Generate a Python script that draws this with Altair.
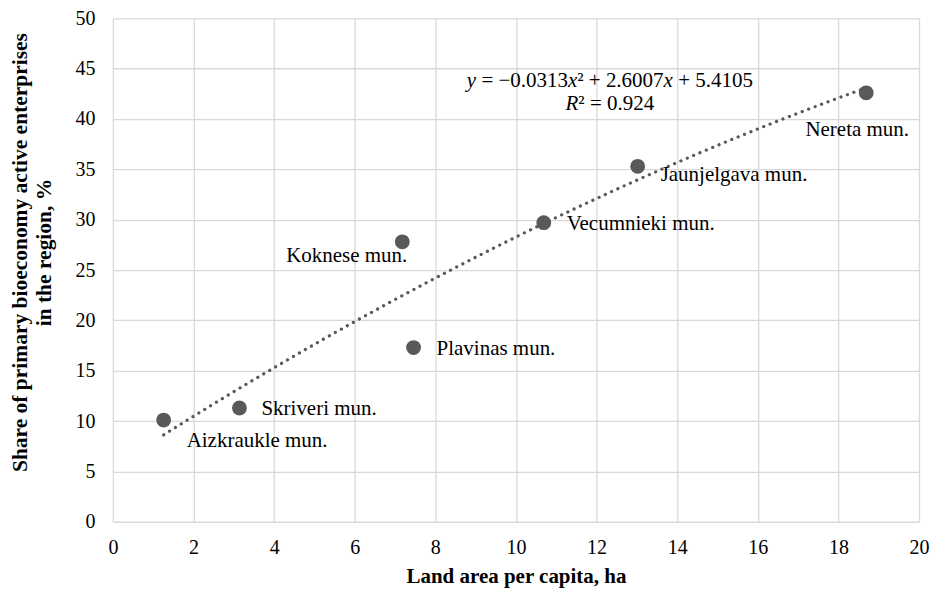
import altair as alt
import pandas as pd

# ---- data ----
names = ["Aizkraukle mun.", "Skriveri mun.", "Plavinas mun.", "Koknese mun.",
         "Vecumnieki mun.", "Jaunjelgava mun.", "Nereta mun."]
land_area = [1.26, 3.14, 7.46, 7.18, 10.69, 13.02, 18.69]
share = [10.1, 11.3, 17.3, 27.8, 29.7, 35.3, 42.6]
x_ticks = list(range(0, 21, 2))
y_ticks = list(range(0, 51, 5))
eq_line1 = [("y", True), (" = \u22120.0313", False), ("x", True), ("\u00b2 + 2.6007", False),
            ("x", True), (" + 5.4105", False)]
eq_line2 = [("R", True), ("\u00b2 = 0.924", False)]

df = pd.DataFrame({"name": names, "x": land_area, "y": share})

FONT = "Liberation Serif"
GREY = "#595959"
W, H = 807, 504

xs = alt.Scale(domain=[0, 20], nice=False, zero=False)
ys = alt.Scale(domain=[0, 50], nice=False, zero=False)

xenc = alt.X("x:Q", scale=xs, axis=alt.Axis(
    values=x_ticks, title="Land area per capita, ha", grid=True, domain=False, ticks=False,
    labelFont=FONT, labelFontSize=20, labelColor="#000000", labelPadding=16,
    titleFont=FONT, titleFontSize=21, titleFontWeight="bold", titleColor="#000000",
    titleY=55, titleBaseline="middle", labelFlush=False))
yenc = alt.Y("y:Q", scale=ys, axis=alt.Axis(
    values=y_ticks, title=["Share of primary bioeconomy active enterprises", "in the region, %"],
    grid=True, domain=False, ticks=False,
    labelFont=FONT, labelFontSize=20, labelColor="#000000", labelPadding=18,
    titleFont=FONT, titleFontSize=21.5, titleFontWeight="bold", titleColor="#000000",
    titleX=-92, titleY=234, titleAngle=-90, titleAlign="center", titleBaseline="middle",
    titleLineHeight=24, labelFlush=False))

base = alt.Chart(df)

trend = base.transform_regression("x", "y", method="poly", order=2).mark_line(
    color=GREY, strokeWidth=3.2, strokeDash=[0.1, 6.8], strokeCap="round").encode(
    x=alt.X("x:Q", scale=xs), y=alt.Y("y:Q", scale=ys))

points = base.mark_circle(size=220, color=GREY, opacity=1).encode(x=xenc, y=yenc)

# label offsets (styling)
label_style = {
    "Aizkraukle mun.": ("left", 23, 21),
    "Skriveri mun.": ("left", 22, 1),
    "Plavinas mun.": ("left", 23, 1),
    "Koknese mun.": ("right", 5, 14),
    "Vecumnieki mun.": ("left", 23, 1),
    "Jaunjelgava mun.": ("left", 23, 9),
    "Nereta mun.": ("center", -9, 37),
}
labels = []
for n in names:
    al, dx, dy = label_style[n]
    labels.append(base.transform_filter(alt.datum.name == n).mark_text(
        font=FONT, fontSize=21, color="#000000", align=al, baseline="middle", dx=dx, dy=dy
    ).encode(x=alt.X("x:Q", scale=xs), y=alt.Y("y:Q", scale=ys), text="name:N"))

# equation annotation (Times metrics, em units)
cw = {" ": 0.25, ".": 0.25, "=": 0.564, "+": 0.564, "\u2212": 0.564, "\u00b2": 0.3,
      "x": 0.444, "y": 0.444, "R": 0.611}
def width(s):
    return sum(cw.get(c, 0.5) for c in s)

EQ_FS = 21
eq_cx = 12.33
eq_layers = []
for line, ydat in ((eq_line1, 43.75), (eq_line2, 41.5)):
    total = sum(width(t) for t, _ in line) * EQ_FS
    off = -total / 2
    for t, it in line:
        lead = len(t) - len(t.lstrip(" "))
        core = t.strip(" ")
        start = off + lead * cw[" "] * EQ_FS
        eq_layers.append(alt.Chart(pd.DataFrame({"t": [core]})).mark_text(
            font=FONT, fontSize=EQ_FS, color="#000000", align="left", baseline="middle",
            fontStyle="italic" if it else "normal", dx=start
        ).encode(x=alt.datum(eq_cx, scale=xs), y=alt.datum(ydat, scale=ys), text="t:N"))
        off += width(t) * EQ_FS

chart = alt.layer(points, trend, *labels, *eq_layers).properties(
    width=W, height=H, autosize="none",
    padding={"left": 105, "top": 10, "right": 12, "bottom": 66}
).configure_view(stroke=None).configure_axis(gridColor="#d9d9d9", gridWidth=1.3)

chart.save("out.html", embed_options={"renderer": "svg", "actions": False})
